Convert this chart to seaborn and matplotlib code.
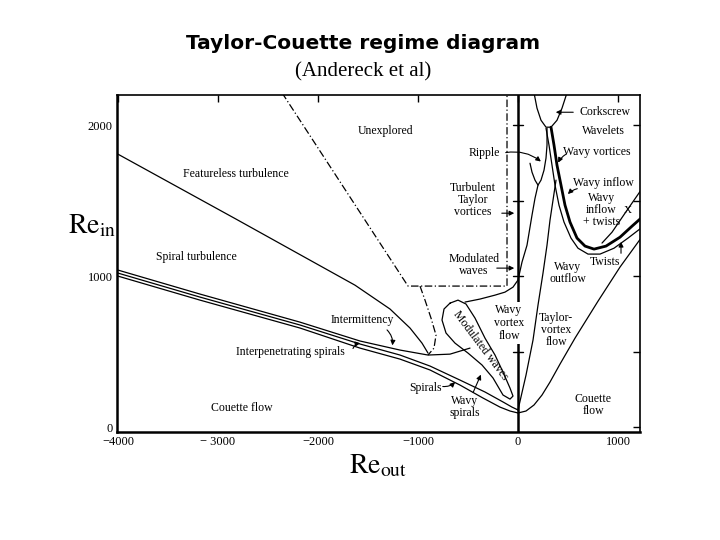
import numpy as np
import pandas as pd
import matplotlib
matplotlib.use("Agg")
import matplotlib.pyplot as plt
import seaborn as sns

sns.set_theme(style="white")
plt.rcParams['font.family'] = ['Liberation Serif', 'DejaVu Serif']
plt.rcParams['mathtext.fontset'] = 'stix'
plt.rcParams['text.color'] = 'black'

# ---------------- data (Re_out, Re_in) ----------------
featureless_x = [-4000, -2820, -1630, -1280, -1080, -960, -900]
featureless_y = [1808, 1378, 940, 782, 656, 556, 490]

interp_top_x = [-4000, -3180, -2180, -1580, -1180, -900, -680, -480]
interp_top_y = [1040, 881, 695, 570, 510, 477, 483, 523]

spirals_x = [-4000, -3180, -2180, -1580, -1180, -880, -580, -330, -150, -60, 0]
spirals_y = [1020, 861, 676, 550, 477, 404, 311, 232, 166, 132, 113]

couette_left_x = [-4000, -3180, -2180, -1580, -1180, -880, -580, -350, -180, -80, 0]
couette_left_y = [1000, 841, 656, 523, 450, 378, 278, 192, 132, 106, 93]

couette_right_x = [0, 80, 160, 240, 320, 420, 570, 800, 1020, 1230]
couette_right_y = [93, 106, 146, 212, 298, 417, 589, 834, 1060, 1252]

taylor_wavy_x = [0, 80, 150, 200, 250, 290, 320, 350, 380]
taylor_wavy_y = [113, 344, 576, 808, 1020, 1205, 1371, 1503, 1636]

modulated_x = [-530, -380, -230, -130, -50, 0, 40, 90, 140, 170, 200]
modulated_y = [828, 848, 874, 894, 927, 974, 1093, 1205, 1404, 1516, 1603]

ripple_x = [120, 140, 170, 200, 230, 260, 280, 290, 290]
ripple_y = [1748, 1689, 1636, 1603, 1636, 1702, 1782, 1868, 1980]

corkscrew_x = [160, 190, 230, 280, 330, 390, 440, 490]
corkscrew_y = [2215, 2113, 2033, 1987, 1987, 2033, 2113, 2215]

wavy_vort_x = [280, 310, 340, 370, 410, 460, 530, 600, 700, 820, 960, 1100, 1230]
wavy_vort_y = [1980, 1868, 1735, 1603, 1470, 1358, 1252, 1185, 1146, 1146, 1185, 1252, 1318]

wavy_inflow_x = [330, 360, 390, 430, 470, 520, 590, 670, 760, 880, 1020, 1140, 1230]
wavy_inflow_y = [1987, 1868, 1735, 1603, 1470, 1358, 1252, 1199, 1179, 1199, 1258, 1331, 1384]

twists_x = [840, 940, 1070, 1230]
twists_y = [1219, 1291, 1417, 1570]

mod_loop_x = [-680, -600, -520, -430, -330, -230, -150, -80, -50, -80, -150, -250,
              -360, -500, -630, -720, -760, -740, -680]
mod_loop_y = [821, 841, 815, 722, 589, 477, 364, 258, 205, 185, 212, 325,
              411, 490, 556, 623, 709, 782, 821]

dashed_x = [-980, -930, -870, -820, -840, -900]
dashed_y = [934, 841, 722, 609, 523, 477]

unexplored_x = [-2360, -1100, -110, -110]
unexplored_y = [2215, 934, 934, 2215]

x_ticks = [-4000, -3000, -2000, -1000, 0, 1000]
x_ticklabels = ["\u22124000", "\u2212 3000", "\u22122000", "\u22121000", "0", "1000"]
y_ticks = [0, 500, 1000, 1500, 2000]
y_ticklabels = ["0", "", "1000", "", "2000"]

labels = [
    ("Unexplored", -1330, 1960),
    ("Featureless turbulence", -2820, 1676),
    ("Spiral turbulence", -3220, 1126),
    ("Intermittency", -1560, 709),
    ("Interpenetrating spirals", -2280, 497),
    ("Couette flow", -2760, 126),
    ("Spirals", -930, 258),
    ("Wavy\nspirals", -530, 132),
    ("Taylor-\nvortex\nflow", 380, 642),
    ("Couette\nflow", 750, 146),
    ("Wavy\noutflow", 500, 1020),
    ("Twists", 870, 1093),
    ("Wavy inflow", 850, 1616),
    ("Wavy\ninflow\n+ twists", 835, 1437),
    ("Wavy vortices", 790, 1821),
    ("Corkscrew", 870, 2086),
    ("Wavelets", 850, 1960),
    ("Ripple", -340, 1815),
    ("Turbulent\nTaylor\nvortices", -450, 1503),
    ("Modulated\nwaves", -440, 1073),
]

arrows = [  # (start, end, curvature)
    ((-1660, 503), (-1550, 556), -0.4),
    ((-1330, 656), (-1260, 523), -0.3),
    ((-780, 271), (-610, 311), 0.3),
    ((-460, 212), (-360, 364), 0.0),
    ((-150, 1815), (250, 1748), -0.25),
    ((500, 1815), (390, 1735), 0.2),
    ((620, 1583), (480, 1530), 0.2),
    ((580, 2086), (350, 2086), 0.0),
    ((-190, 1417), (-10, 1417), 0.0),
    ((-240, 1053), (-10, 1053), 0.0),
    ((1030, 1133), (1030, 1245), 0.0),
]

# ---------------- figure ----------------
fig = plt.figure(figsize=(7.2, 5.4), dpi=100)
ax = fig.add_axes([0.1625, 0.2, 0.7264, 0.624])
ax.set_xlim(-4010, 1220)
ax.set_ylim(-33, 2200)

solid = [
    (featureless_x, featureless_y, 0.9),
    (interp_top_x, interp_top_y, 0.9),
    (spirals_x, spirals_y, 0.9),
    (couette_left_x, couette_left_y, 0.9),
    (couette_right_x, couette_right_y, 0.9),
    (taylor_wavy_x, taylor_wavy_y, 0.9),
    (modulated_x, modulated_y, 0.9),
    (ripple_x, ripple_y, 0.9),
    (corkscrew_x, corkscrew_y, 0.9),
    (wavy_vort_x, wavy_vort_y, 0.9),
    (wavy_inflow_x, wavy_inflow_y, 2.0),
    (twists_x, twists_y, 0.9),
    (mod_loop_x, mod_loop_y, 0.9),
]
for xs, ys, lw in solid:
    sns.lineplot(x=xs, y=ys, sort=False, estimator=None, color="black",
                 linewidth=lw, ax=ax)
for xs, ys in [(dashed_x, dashed_y), (unexplored_x, unexplored_y)]:
    sns.lineplot(x=xs, y=ys, sort=False, estimator=None, color="black",
                 linewidth=0.9, linestyle=(0, (6, 2, 1, 2)), ax=ax)

# vertical Re_out = 0 line with crossing ticks
ax.axvline(0, color="black", lw=1.8, zorder=1)
for yt in y_ticks[1:]:
    ax.plot([-50, 50], [yt, yt], color="black", lw=1.0)

for txt, x, y in labels:
    ax.text(x, y, txt, ha="center", va="center", fontsize=8.5,
            linespacing=1.0, zorder=5)
ax.text(-90, 689, "Wavy\nvortex\nflow", ha="center", va="center", fontsize=8.5,
        linespacing=1.1, zorder=5,
        bbox=dict(facecolor="white", edgecolor="none", pad=1.5))
ax.text(-380, 543, "Modulated waves", ha="center", va="center", fontsize=8.5,
        rotation=-53, zorder=5)
ax.text(1095, 1437, "X", ha="center", va="center", fontsize=8)

for (sx, sy), (ex, ey), rad in arrows:
    ax.annotate("", xy=(ex, ey), xytext=(sx, sy),
                arrowprops=dict(arrowstyle="-|>", lw=0.8, color="black",
                                mutation_scale=7,
                                connectionstyle=f"arc3,rad={rad}"))

ax.set_xticks(x_ticks)
ax.set_xticklabels(x_ticklabels)
ax.set_yticks(y_ticks)
ax.set_yticklabels(y_ticklabels)
ax.tick_params(direction="in", top=True, right=True, length=5, width=1,
               labelsize=9, pad=3, color="black", labelcolor="black")
for s in ax.spines.values():
    s.set_visible(True)
    s.set_color("black")
    s.set_linewidth(1.2)
ax.spines["left"].set_linewidth(1.8)
ax.spines["bottom"].set_linewidth(1.8)
ax.set_xlabel("")
ax.set_ylabel("")

fig.text(0.504, 0.920, "Taylor-Couette regime diagram", ha="center", va="center",
         fontsize=14.5, fontweight="bold", family=["DejaVu Sans"], color="black")
fig.text(0.504, 0.867, "(Andereck et al)", ha="center", va="center", fontsize=15,
         color="black")
fig.text(0.128, 0.581, r"$\mathrm{Re}_{\mathrm{in}}$", ha="center", va="center",
         fontsize=20, color="black")
fig.text(0.525, 0.137, r"$\mathrm{Re}_{\mathrm{out}}$", ha="center", va="center",
         fontsize=20, color="black")

fig.savefig("out.png", dpi=100, facecolor="white")
